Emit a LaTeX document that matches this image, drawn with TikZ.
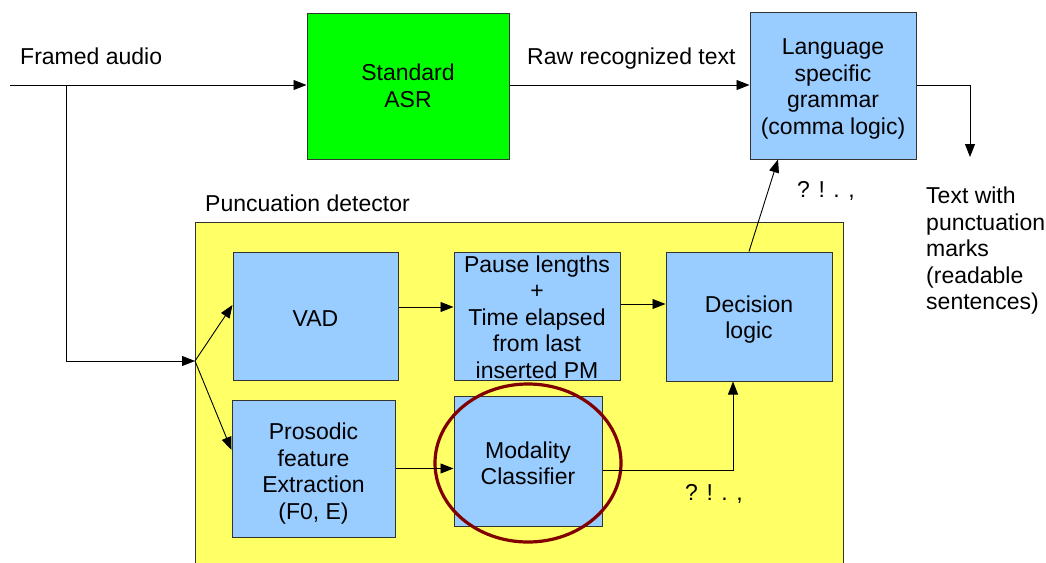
\documentclass[tikz,border=0pt]{standalone}
\usepackage{fontspec}
\setmainfont{Liberation Sans}
\usetikzlibrary{arrows.meta,shapes.geometric,calc}
\definecolor{asrgreen}{HTML}{00FF00}
\definecolor{blockblue}{HTML}{99CCFF}
\definecolor{detyellow}{HTML}{FFFF66}
\definecolor{ringred}{HTML}{800000}
\definecolor{edge}{HTML}{333333}
% an empty top line; a smaller negative gap pushes the text further down
\newcommand{\lowertext}[1]{\rule{0pt}{0pt}\\[#1]}
\begin{document}
\begin{tikzpicture}[x=1pt,y=-1pt,
  every node/.style={font=\fontsize{23}{26.5}\selectfont},
  block/.style={draw=edge,line width=1pt,fill=blockblue,align=center,inner sep=0pt},
  flow/.style={line width=0.9pt,-{Triangle[length=13pt,width=10pt]}},
  wire/.style={line width=0.9pt},
  lbl/.style={inner sep=0pt,anchor=base west}]
  \useasboundingbox (0,0) rectangle (1046,562);

  % detector frame
  \node[draw=edge,line width=1pt,fill=detyellow,minimum width=648pt,minimum height=348pt,inner sep=0pt]
    (det) at (519,396) {};
  \node[lbl] (detlbl) at (205,211) {Puncuation detector};

  % main blocks
  \node[draw=edge,line width=1pt,fill=asrgreen,align=center,minimum width=202pt,minimum height=146pt,inner sep=0pt]
    (asr) at (408,86) {Standard\\ASR};
  \node[block,minimum width=166pt,minimum height=147pt] (gram) at (833,85.5)
    {\lowertext{-3.5pt}Language\\specific\\grammar\\(comma logic)};
  \node[block,minimum width=165pt,minimum height=128pt] (vad) at (315.5,316)
    {\lowertext{-5.5pt}VAD};
  \node[block,minimum width=166pt,minimum height=128pt] (pause) at (537,316)
    {\lowertext{-7.5pt}Pause lengths\\+\\Time elapsed\\from last\\inserted PM};
  \node[block,minimum width=166pt,minimum height=129pt] (dec) at (749,316.5)
    {\lowertext{-3.5pt}Decision\\logic};
  \node[block,minimum width=163pt,minimum height=137pt] (pros) at (313.5,468.5)
    {\lowertext{0.5pt}Prosodic\\feature\\Extraction\\(F0, E)};
  \node[block,minimum width=148pt,minimum height=130pt] (mod) at (528,461)
    {\lowertext{-5.5pt}Modality\\Classifier};

  % highlight ring
  \node[ellipse,draw=ringred,line width=3.2pt,minimum width=186pt,minimum height=158pt,inner sep=0pt]
    (ring) at (528,463) {};

  % free ends and joints
  \coordinate (in) at (10,85);
  \coordinate (tap) at (66,85);
  \coordinate (split) at (195,361);
  \coordinate (outcorner) at (970,85);
  \coordinate (out) at (970,157);

  % labels
  \node[lbl] (framed) at (20,64) {Framed audio};
  \node[lbl] (raw) at (527,64) {Raw recognized text};
  \node[lbl] (pm1) at (797,197) {? ! . ,};
  \node[lbl] (pm2) at (685,500) {? ! . ,};
  \node[inner sep=0pt,anchor=north west,align=left] (result) at (926,187)
    {Text with\\punctuation\\marks\\(readable\\sentences)};

  % connectors
  \draw[flow] (in) -- (asr.west |- in);
  \draw[flow] (tap) |- (split);
  \draw[flow] (split) -- ([yshift=11pt]vad.west);
  \draw[flow] (split) -- ([yshift=18.5pt]pros.west);
  \draw[flow] (asr.east |- in) -- (gram.west |- in);
  \draw[wire] (gram.east |- in) -- (outcorner);
  \draw[flow] (outcorner) -- (out);
  \draw[flow] ([yshift=9pt]vad.east) -- ([yshift=9pt]vad.east -| pause.west);
  \draw[flow] ([yshift=12pt]pause.east) -- ([yshift=12pt]pause.east -| dec.west);
  \draw[flow] (pros.east) -- (pros.east -| mod.west);
  \draw[flow] ([yshift=-9pt]mod.east) -| ([xshift=-16pt]dec.south);
  \draw[flow] (dec.north) -- ([xshift=-55pt]gram.south);
\end{tikzpicture}
\end{document}
